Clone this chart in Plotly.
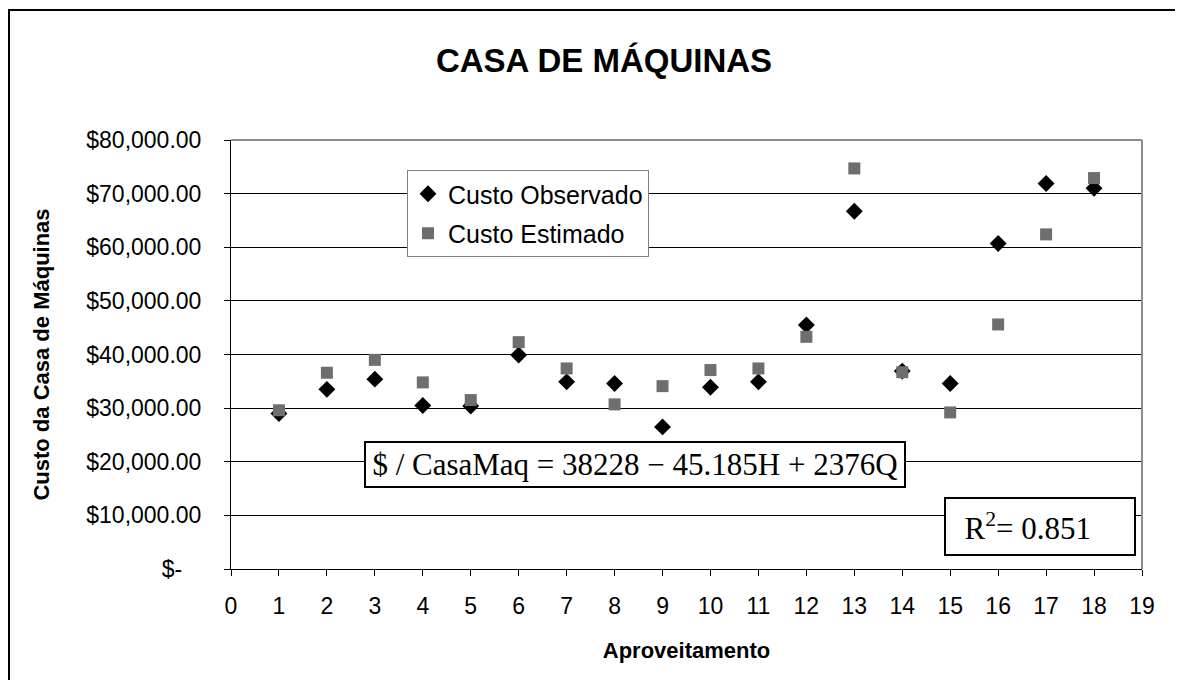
import plotly.graph_objects as go

# ---- data ----
aproveitamento = list(range(1, 19))
custo_observado = [29000, 33500, 35400, 30500, 30400, 39900, 34900, 34600, 26500,
                   33900, 34900, 45500, 66700, 36900, 34600, 60700, 71900, 71000]
custo_estimado = [29600, 36600, 39000, 34800, 31500, 42300, 37400, 30700, 34100,
                  37100, 37400, 43300, 74700, 36700, 29200, 45600, 62400, 72900]

x_ticks = list(range(0, 20))
y_ticks = [0, 10000, 20000, 30000, 40000, 50000, 60000, 70000, 80000]
y_ticktext = ["$-\u00a0\u00a0\u00a0", "$10,000.00", "$20,000.00", "$30,000.00", "$40,000.00",
              "$50,000.00", "$60,000.00", "$70,000.00", "$80,000.00"]

title_text = "CASA DE MÁQUINAS"
x_title = "Aproveitamento"
y_title = "Custo da Casa de Máquinas"
equation_text = "$ / CasaMaq = 38228 \u2212 45.185H + 2376Q"
r2_text = "\u00a0\u00a0R<sup>2</sup>= 0.851"

SANS = "Liberation Sans, Arial, sans-serif"
SERIF = "Liberation Serif, Times New Roman, serif"

# page offset of the plotly div (body margin)
OFF = 8

fig = go.Figure()
fig.add_trace(go.Scatter(
    x=aproveitamento, y=custo_observado, mode="markers", name="Custo Observado",
    legendgroup="obs",
    marker=dict(symbol="diamond", size=13, color="#000000"),
))
fig.add_trace(go.Scatter(
    x=aproveitamento, y=custo_estimado, mode="markers", name="Custo Estimado",
    legendgroup="est",
    marker=dict(symbol="square", size=12, color="#6e6e6e"),
))

# plot area in page pixels
L, R, T, B = 231, 1142, 140, 569
W, H = 1183, 680

fig.update_layout(
    width=W, height=H,
    margin=dict(l=L - OFF, r=W - (R - OFF), t=T - OFF, b=H - (B - OFF)),
    paper_bgcolor="white", plot_bgcolor="white",
    font=dict(family=SANS, color="#000000"),
    title=dict(text=f"<b>{title_text}</b>", x=(604 - OFF) / W, xanchor="center",
               y=1 - (60 - OFF) / H, yanchor="middle", xref="container", yref="container",
               font=dict(size=33, family=SANS, color="#000000")),
    showlegend=True,
    legend=dict(x=(407 - L) / (R - L), y=(B - 170) / (B - T), xanchor="left", yanchor="top",
                bgcolor="white", bordercolor="#808080", borderwidth=1,
                font=dict(size=25, family=SANS, color="#000000"),
                traceorder="grouped", tracegroupgap=4),
    xaxis=dict(range=[0, 19], tickmode="array", tickvals=x_ticks,
               ticks="outside", ticklen=6, tickcolor="#000000", tickwidth=1,
               showline=True, linecolor="#000000", linewidth=1,
               showgrid=False, zeroline=False,
               tickfont=dict(size=23, family=SANS, color="#000000"),
               ticklabelstandoff=10,
               title=dict(text=f"<b>{x_title}</b>", font=dict(size=22, family=SANS, color="#000000"),
                          standoff=25)),
    yaxis=dict(range=[0, 80000], tickmode="array", tickvals=y_ticks, ticktext=y_ticktext,
               ticks="outside", ticklen=6, tickcolor="#000000", tickwidth=1,
               showline=True, linecolor="#000000", linewidth=1,
               showgrid=True, gridcolor="#000000", gridwidth=1, zeroline=False,
               tickfont=dict(size=23, family=SANS, color="#000000"),
               ticklabelstandoff=18,
               title=dict(text=f"<b>{y_title}</b>", font=dict(size=22, family=SANS, color="#000000"),
                          standoff=30)),
)

# plot-area top/right border (gray) and outer chart frame
fig.add_shape(type="line", xref="paper", yref="paper", x0=0, x1=1, y0=1, y1=1,
              line=dict(color="#8c8c8c", width=2))
fig.add_shape(type="line", xref="paper", yref="paper", x0=1, x1=1, y0=0, y1=1,
              line=dict(color="#8c8c8c", width=2))
fig.add_shape(type="rect", xref="paper", yref="paper",
              x0=(9 - L) / (R - L), x1=1.5, y0=-0.6, y1=(B - 10) / (B - T),
              line=dict(color="#000000", width=2), fillcolor="rgba(0,0,0,0)")

# equation and R² boxes
fig.add_annotation(x=8.43, y=19430, xref="x", yref="y", text=equation_text, showarrow=False,
                   font=dict(size=31, family=SERIF, color="#000000"),
                   bgcolor="white", bordercolor="#000000", borderwidth=2, borderpad=3,
                   width=532, height=37, align="center", xanchor="center", yanchor="middle")
fig.add_annotation(x=16.87, y=7930, xref="x", yref="y", text=r2_text, showarrow=False,
                   font=dict(size=31, family=SERIF, color="#000000"),
                   bgcolor="white", bordercolor="#000000", borderwidth=2, borderpad=3,
                   width=182, height=49, align="left", xanchor="center", yanchor="middle")

fig.write_html("out.html")
